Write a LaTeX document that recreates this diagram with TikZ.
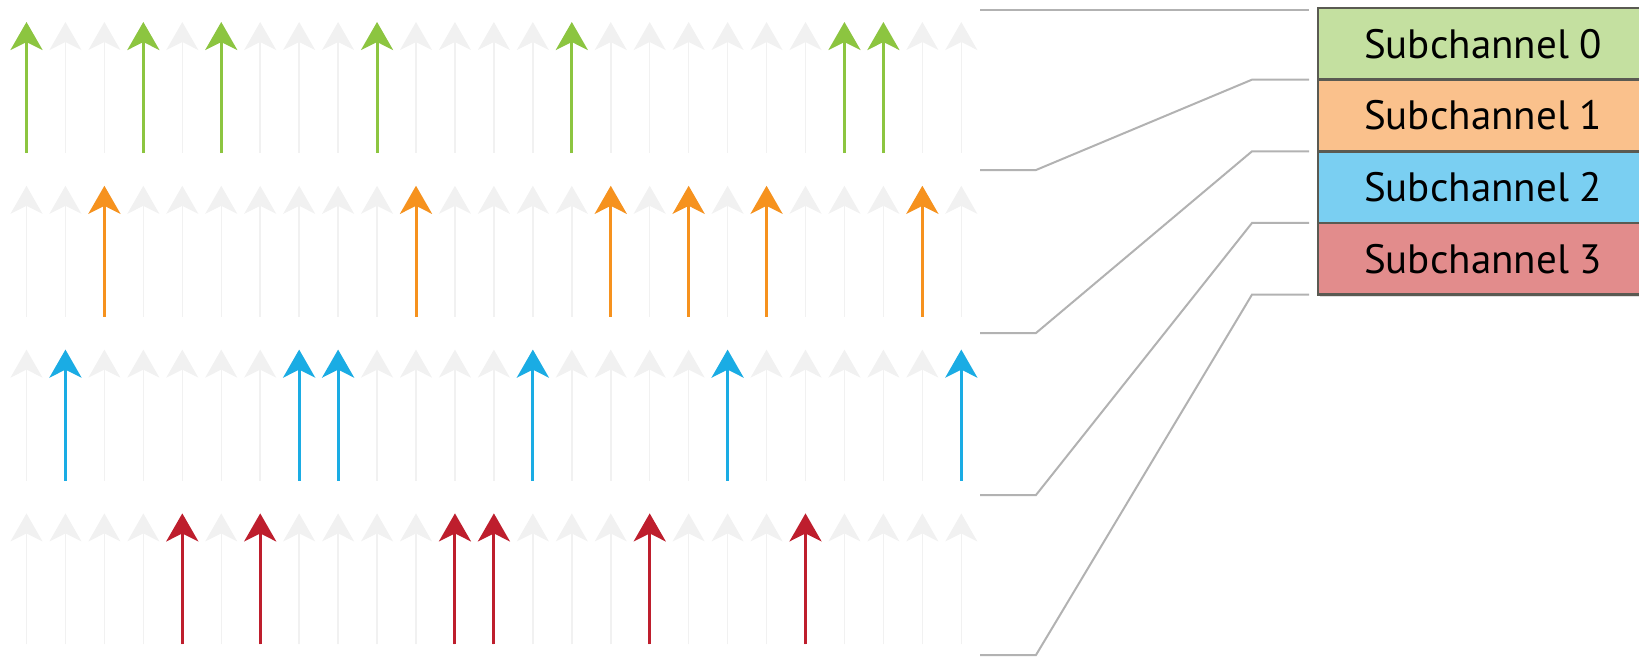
\documentclass[tikz,border=0pt]{standalone}
\usepackage{fontspec}
\setmainfont{PT Sans}
\usetikzlibrary{arrows.meta}

% carrier colours
\definecolor{gOn}{RGB}{140,197,64}
\definecolor{oOn}{RGB}{246,146,30}
\definecolor{bOn}{RGB}{26,172,228}
\definecolor{rOn}{RGB}{190,30,45}
\definecolor{idlegray}{RGB}{241,241,241}
% legend fills
\definecolor{gFill}{RGB}{196,224,160}
\definecolor{oFill}{RGB}{250,193,140}
\definecolor{bFill}{RGB}{122,207,242}
\definecolor{rFill}{RGB}{226,140,140}
\definecolor{leadgray}{RGB}{178,178,178}
\definecolor{boxedge}{RGB}{90,90,82}

\tikzset{
  carrier/.style={-{Stealth[length=28pt,width=32pt,inset=8pt]}},
  idle/.style={carrier, draw=idlegray, fill=idlegray, line width=1.5pt},
  active/.style={carrier, line width=3pt},
  legendrow/.style={minimum width=330pt, minimum height=71.25pt, inner sep=0pt,
    anchor=north west, text=black, font=\fontsize{41}{41}\selectfont},
  leader/.style={draw=leadgray, line width=2pt},
  boxline/.style={draw=boxedge, line width=2.5pt},
}

\begin{document}
\begin{tikzpicture}[x=1pt,y=-1pt]
\useasboundingbox (0,0) rectangle (1639,659);

% idle carriers in every slot of every row
\foreach \r in {0,1,2,3} {
  \foreach \i in {0,...,24} {
    \draw[idle] ({26.5+38.95*\i},{153+163.8*\r}) -- ({26.5+38.95*\i},{22+163.8*\r});
  }
}

% carriers assigned to each subchannel
\foreach \r/\c/\L in {0/gOn/{0,3,5,9,14,21,22},
                      1/oOn/{2,10,15,17,19,23},
                      2/bOn/{1,7,8,13,18,24},
                      3/rOn/{4,6,11,12,16,20}} {
  \foreach \i in \L {
    \draw[active, draw=\c, fill=\c] ({26.5+38.95*\i},{153+163.8*\r}) -- ({26.5+38.95*\i},{22+163.8*\r});
  }
}

% legend
\begin{scope}
  \clip (0,0) rectangle (1639,659);
  \fill[black!12] (1320,10) rectangle (1650,297);
  \node[legendrow, fill=gFill] (s0) at (1318,8) {Subchannel 0};
  \node[legendrow, fill=oFill] (s1) at (s0.south west) {Subchannel 1};
  \node[legendrow, fill=bFill] (s2) at (s1.south west) {Subchannel 2};
  \node[legendrow, fill=rFill] (s3) at (s2.south west) {Subchannel 3};
  \draw[boxline] (s0.north east) -- (s0.north west) -- (s3.south west) -- (s3.south east);
  \draw[boxline] (s0.south west) -- (s0.south east);
  \draw[boxline] (s1.south west) -- (s1.south east);
  \draw[boxline] (s2.south west) -- (s2.south east);
\end{scope}

% leader lines from row boundaries to legend boundaries
\coordinate (L0) at (980,10);
\coordinate (L1) at (980,170);
\coordinate (L2) at (980,333);
\coordinate (L3) at (980,495);
\coordinate (L4) at (980,655);

\draw[leader] (L0) -- ([xshift=-9pt]s0.north west |- L0);
\draw[leader] (L1) -- (1036,170) -- ([xshift=-66pt]s0.south west) -- ([xshift=-9pt]s0.south west);
\draw[leader] (L2) -- (1036,333) -- ([xshift=-66pt]s1.south west) -- ([xshift=-9pt]s1.south west);
\draw[leader] (L3) -- (1036,495) -- ([xshift=-66pt]s2.south west) -- ([xshift=-9pt]s2.south west);
\draw[leader] (L4) -- (1036,655) -- ([xshift=-66pt]s3.south west) -- ([xshift=-9pt]s3.south west);
\end{tikzpicture}
\end{document}
